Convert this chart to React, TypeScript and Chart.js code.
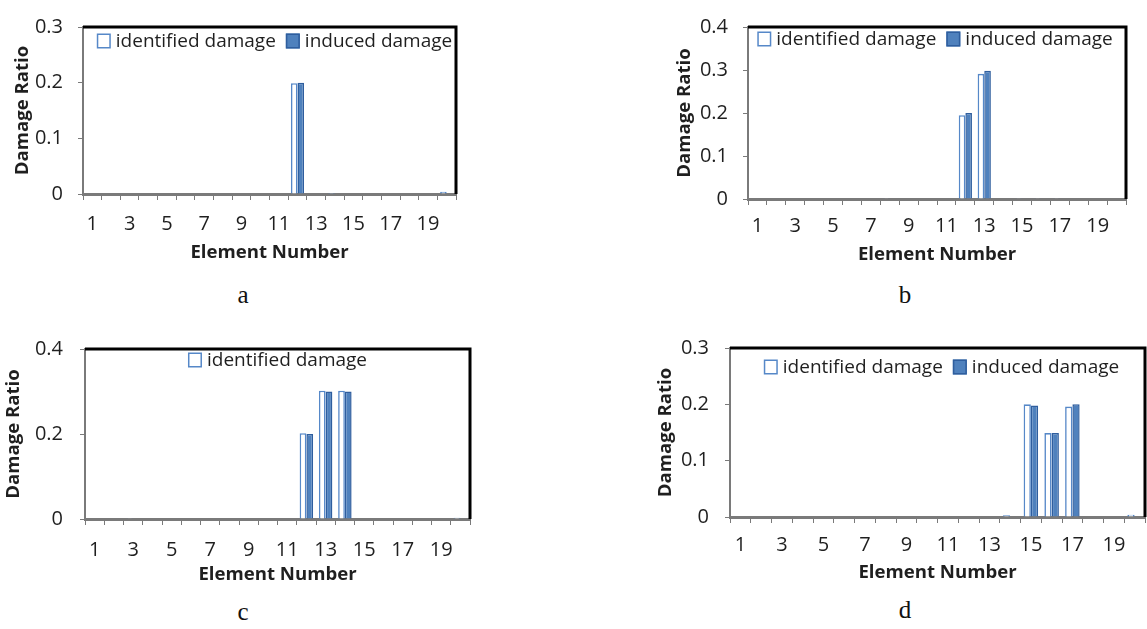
import React, { useEffect, useRef } from "react";
import { Chart, registerables } from "chart.js";

Chart.register(...registerables);

const FONT = '"Open Sans", "DejaVu Sans", sans-serif';
Chart.defaults.font.family = FONT;

// ---------- data ----------
const elementNumbers = ["1", "2", "3", "4", "5", "6", "7", "8", "9", "10", "11", "12", "13", "14", "15", "16", "17", "18", "19", "20"];
const labelledElements = ["1", "3", "5", "7", "9", "11", "13", "15", "17", "19"];
const seriesNames = ["identified damage", "induced damage"];

const yTicksA = [0, 0.1, 0.2, 0.3];
const yTicksB = [0, 0.1, 0.2, 0.3, 0.4];
const yTicksC = [0, 0.2, 0.4];
const yTicksD = [0, 0.1, 0.2, 0.3];

const identifiedA = [0, 0, 0.001, 0, 0, 0, 0, 0, 0, 0, 0, 0.199, 0.001, 0.002, 0, 0, 0, 0, 0, 0.004];
const inducedA = [0, 0, 0, 0, 0, 0, 0, 0, 0, 0, 0, 0.2, 0, 0, 0, 0, 0, 0, 0, 0];

const identifiedB = [0, 0, 0, 0, 0, 0, 0, 0.002, 0, 0, 0, 0.195, 0.291, 0, 0.002, 0.002, 0.002, 0, 0, 0];
const inducedB = [0, 0, 0, 0, 0, 0, 0, 0, 0, 0, 0, 0.2, 0.298, 0, 0, 0, 0, 0, 0, 0];

const identifiedC = [0, 0, 0.002, 0, 0, 0, 0, 0, 0, 0, 0, 0.202, 0.302, 0.302, 0, 0, 0, 0, 0, 0.003];
const inducedC = [0, 0, 0, 0, 0, 0, 0, 0, 0, 0, 0, 0.2, 0.3, 0.3, 0, 0, 0, 0, 0, 0];

const identifiedD = [0, 0, 0.001, 0, 0, 0, 0, 0, 0, 0, 0, 0, 0.001, 0.003, 0.2, 0.149, 0.196, 0, 0, 0.004];
const inducedD = [0, 0, 0, 0, 0, 0, 0, 0, 0, 0, 0, 0, 0, 0, 0.198, 0.149, 0.2, 0, 0, 0];

// ---------- styles ----------
const TEXT = "#1f1f1f";
const ID_BORDER = "#5688c8";
const IND_FILL = "#4f81bd";
const IND_BORDER = "#2f5e9e";
const AXIS_GRAY = "#7a7a7a";
const TICK_SIZE = 20;
const TITLE_SIZE = 18.6;

type PanelCfg = {
  left: number; top: number; width: number; height: number;
  plot: { left: number; right: number; top: number; bottom: number };
  yMax: number; yTicks: number[];
  identified: number[]; induced: number[];
  legendItems: number[]; legendY: number; legendDx: number;
  yTitlePad: number; yTickPad: number; xTickPad: number; xTitlePad: number;
  caption: string; captionX: number; captionY: number;
};

const panels: PanelCfg[] = [
  {
    left: 0, top: 0, width: 480, height: 275,
    plot: { left: 83, right: 456, top: 15, bottom: 194 },
    yMax: 0.3, yTicks: yTicksA, identified: identifiedA, induced: inducedA,
    legendItems: [0, 1], legendY: 41, legendDx: 5,
    yTitlePad: 12, yTickPad: 15, xTickPad: 12, xTitlePad: 11,
    caption: "a", captionX: 243, captionY: 295,
  },
  {
    left: 660, top: 0, width: 487, height: 275,
    plot: { left: 88, right: 466, top: 20, bottom: 199 },
    yMax: 0.4, yTicks: yTicksB, identified: identifiedB, induced: inducedB,
    legendItems: [0, 1], legendY: 39, legendDx: -2,
    yTitlePad: 14, yTickPad: 15, xTickPad: 9, xTitlePad: 9,
    caption: "b", captionX: 905, captionY: 295,
  },
  {
    left: 0, top: 320, width: 480, height: 275,
    plot: { left: 85, right: 470, top: 19, bottom: 199 },
    yMax: 0.4, yTicks: yTicksC, identified: identifiedC, induced: inducedC,
    legendItems: [0], legendY: 40, legendDx: 0,
    yTitlePad: 3, yTickPad: 17, xTickPad: 13, xTitlePad: 9,
    caption: "c", captionX: 243, captionY: 612,
  },
  {
    left: 650, top: 320, width: 497, height: 275,
    plot: { left: 80, right: 495, top: 19, bottom: 197 },
    yMax: 0.3, yTicks: yTicksD, identified: identifiedD, induced: inducedD,
    legendItems: [0, 1], legendY: 47, legendDx: 4,
    yTitlePad: 5, yTickPad: 16, xTickPad: 10, xTitlePad: 11,
    caption: "d", captionX: 905, captionY: 610,
  },
];

const framePlugin = {
  id: "frame",
  afterDatasetsDraw(chart: any) {
    const { ctx, chartArea } = chart;
    ctx.save();
    ctx.strokeStyle = "#000000";
    ctx.lineWidth = 3;
    ctx.beginPath();
    ctx.moveTo(chartArea.left, chartArea.top);
    ctx.lineTo(chartArea.right, chartArea.top);
    ctx.lineTo(chartArea.right, chartArea.bottom);
    ctx.stroke();
    ctx.restore();
  },
};

const innerLegendPlugin = {
  id: "innerLegend",
  afterDraw(chart: any, _args: any, opts: any) {
    const { ctx, chartArea } = chart;
    const items: number[] = opts.items;
    const boxW = 14, boxH = 15, gap = 5, itemGap = 10;
    ctx.save();
    ctx.font = `19px ${FONT}`;
    const widths = items.map((i) => ctx.measureText(seriesNames[i]).width);
    const total = widths.reduce((s, w) => s + boxW + gap + w, 0) + itemGap * (items.length - 1);
    let x = (chartArea.left + chartArea.right) / 2 - total / 2 + opts.dx;
    const y = opts.y;
    items.forEach((i, k) => {
      if (i === 0) {
        ctx.fillStyle = "#ffffff";
        ctx.fillRect(x, y - boxH / 2, boxW, boxH);
        ctx.strokeStyle = ID_BORDER;
      } else {
        ctx.fillStyle = IND_FILL;
        ctx.fillRect(x, y - boxH / 2, boxW, boxH);
        ctx.strokeStyle = IND_BORDER;
      }
      ctx.lineWidth = 1.5;
      ctx.strokeRect(x + 0.75, y - boxH / 2 + 0.75, boxW - 1.5, boxH - 1.5);
      x += boxW + gap;
      ctx.fillStyle = TEXT;
      ctx.textAlign = "left";
      ctx.textBaseline = "middle";
      ctx.fillText(seriesNames[i], x, y + 1);
      x += widths[k] + itemGap;
    });
    ctx.restore();
  },
};

function Panel({ cfg }: { cfg: PanelCfg }) {
  const ref = useRef<HTMLCanvasElement>(null);
  useEffect(() => {
    const c = cfg;
    const chart = new Chart(ref.current as HTMLCanvasElement, {
      type: "bar",
      data: {
        labels: elementNumbers,
        datasets: [
          {
            label: seriesNames[0],
            data: c.identified,
            backgroundColor: "#ffffff",
            borderColor: ID_BORDER,
            borderWidth: 1.6,
            categoryPercentage: 0.7,
            barPercentage: 1,
          },
          {
            label: seriesNames[1],
            data: c.induced,
            backgroundColor: IND_FILL,
            borderColor: IND_BORDER,
            borderWidth: 1.5,
            categoryPercentage: 0.7,
            barPercentage: 1,
          },
        ],
      },
      options: {
        responsive: false,
        animation: false,
        devicePixelRatio: 1,
        events: [],
        layout: { padding: { left: 0, top: c.plot.top, right: c.width - c.plot.right, bottom: 0 } },
        plugins: {
          legend: { display: false },
          tooltip: { enabled: false },
          innerLegend: { items: c.legendItems, y: c.legendY, dx: c.legendDx },
        } as any,
        scales: {
          x: {
            type: "category",
            offset: true,
            grid: {
              display: true,
              drawOnChartArea: false,
              drawTicks: true,
              tickLength: 6,
              color: AXIS_GRAY,
              lineWidth: 1,
              offset: true,
            },
            border: { display: true, color: AXIS_GRAY, width: 3 },
            ticks: {
              autoSkip: false,
              maxRotation: 0,
              minRotation: 0,
              padding: c.xTickPad,
              color: TEXT,
              font: { size: TICK_SIZE, family: FONT },
              callback: (_v: any, i: number) =>
                labelledElements.includes(elementNumbers[i]) ? elementNumbers[i] : "",
            },
            title: {
              display: true,
              text: "Element Number",
              color: TEXT,
              font: { size: TITLE_SIZE, weight: "bold", family: FONT },
              padding: { top: 0, bottom: c.xTitlePad },
            },
            afterFit: (s: any) => {
              s.height = c.height - c.plot.bottom;
            },
          } as any,
          y: {
            min: 0,
            max: c.yMax,
            afterBuildTicks: (s: any) => {
              s.ticks = c.yTicks.map((v) => ({ value: v }));
            },
            grid: {
              display: true,
              drawOnChartArea: false,
              drawTicks: true,
              tickLength: 5,
              color: AXIS_GRAY,
            },
            border: { display: true, color: AXIS_GRAY, width: 2 },
            ticks: {
              padding: c.yTickPad,
              color: TEXT,
              font: { size: TICK_SIZE, family: FONT },
              callback: (v: any) => String(v),
            },
            title: {
              display: true,
              text: "Damage Ratio",
              color: TEXT,
              font: { size: TITLE_SIZE, weight: "bold", family: FONT },
              padding: { top: c.yTitlePad, bottom: 0 },
            },
            afterFit: (s: any) => {
              s.width = c.plot.left;
            },
          } as any,
        },
      },
      plugins: [framePlugin, innerLegendPlugin],
    });
    return () => chart.destroy();
  }, [cfg]);

  return (
    <>
      <canvas
        ref={ref}
        width={cfg.width}
        height={cfg.height}
        style={{ position: "absolute", left: cfg.left, top: cfg.top, width: cfg.width, height: cfg.height }}
      />
      <div
        style={{
          position: "absolute",
          left: cfg.captionX - 30,
          top: cfg.captionY - 15,
          width: 60,
          height: 30,
          lineHeight: "30px",
          textAlign: "center",
          fontFamily: '"Liberation Serif", "Times New Roman", serif',
          fontSize: 25,
          color: "#111",
        }}
      >
        {cfg.caption}
      </div>
    </>
  );
}

export default function App() {
  return (
    <div
      style={{
        position: "fixed",
        left: 0,
        top: 0,
        width: 1147,
        height: 629,
        background: "#ffffff",
        overflow: "hidden",
      }}
    >
      {panels.map((p) => (
        <Panel key={p.caption} cfg={p} />
      ))}
    </div>
  );
}
